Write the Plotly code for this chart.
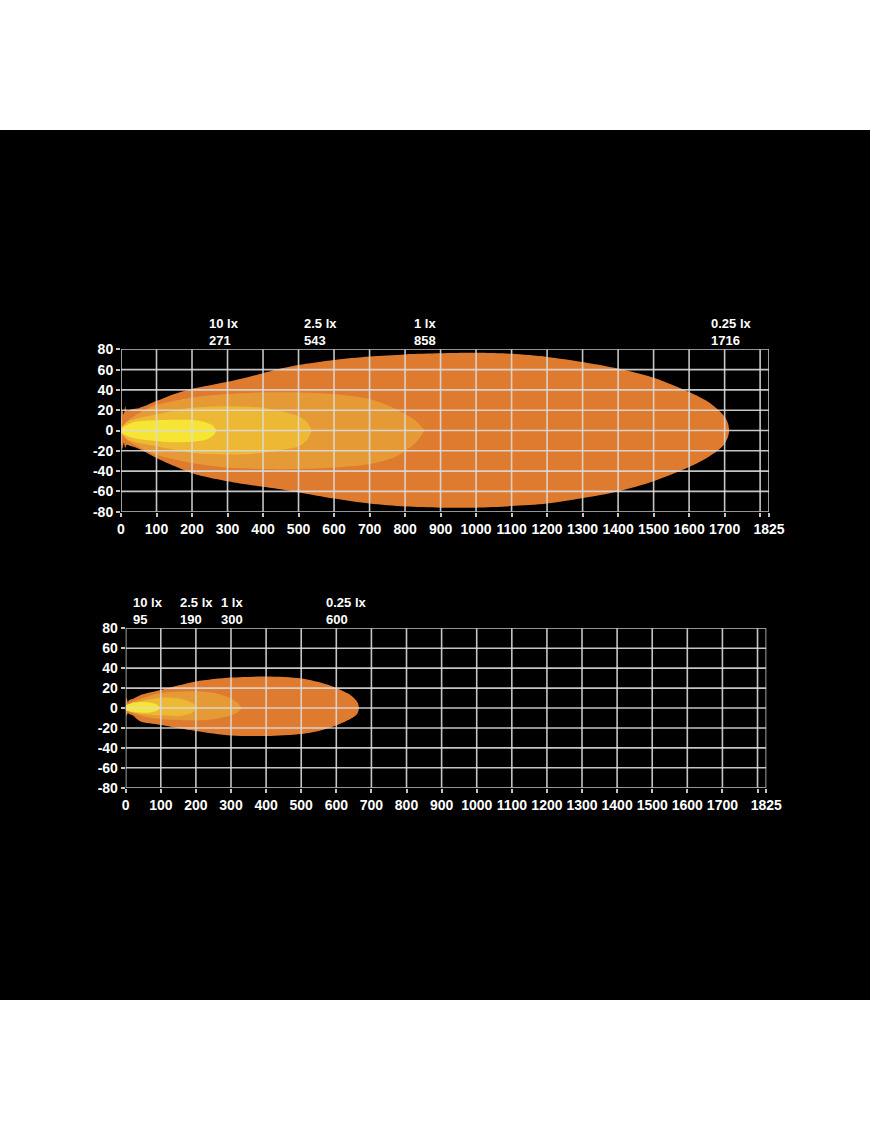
import plotly.graph_objects as go

# isolux contours, upper / lower edges (m)
LUX_LEVELS = ["0.25 lx", "1 lx", "2.5 lx", "10 lx"]
LUX_COLORS = ["#DF7B2F", "#E69A36", "#EDB833", "#F6E532"]

# top panel
top_025_x = [0, 4, 8, 12, 16, 30, 50, 100, 150, 200, 250, 300, 350, 400, 450, 500, 600, 700,
             800, 900, 1000, 1100, 1200, 1300, 1400, 1500, 1600, 1650, 1680, 1700, 1710, 1713]
top_025_up = [10, 20, 16, 24, 19, 21, 22, 29, 36, 41, 44.5, 48, 52, 56.5, 61, 64.5, 69.5, 73,
              75, 76, 76.5, 75.5, 72.5, 67.5, 61, 52, 38, 29, 21, 13.5, 6.5, 0]
top_025_lo = [-10, -18, -12, -17, -14, -15.5, -18, -27, -35, -42, -46.5, -50, -53, -55.5, -58, -61, -67, -72,
              -75, -76, -76, -74.5, -72, -66.5, -60, -50, -36, -27, -20, -13, -6, 0]

top_1_x = [0, 20, 50, 100, 200, 300, 400, 500, 600, 700, 775, 830, 855]
top_1_up = [3, 10, 17, 25, 32.5, 36, 37.5, 37.5, 36, 31, 21, 9.5, 0]
top_1_lo = [-3, -10, -16, -24, -32, -36.5, -38, -38, -36.5, -33, -25.5, -12, 0]

top_25_x = [0, 20, 100, 200, 300, 400, 450, 500, 525, 537]
top_25_up = [2.5, 9, 16, 22.4, 24, 22.4, 19, 14, 7.6, 0]
top_25_lo = [-2.5, -9, -15.5, -22, -23.7, -22, -19.4, -15.5, -9, 0]

top_10_x = [0, 20, 40, 100, 150, 200, 240, 260, 269]
top_10_up = [2, 6, 8.5, 10, 10.5, 10.5, 8, 4.5, 0]
top_10_lo = [-2, -6, -8, -10.5, -11.5, -11, -9, -5, 0]

top_dist = [271, 543, 858, 1716]

# bottom panel
bot_025_x = [0, 3, 6, 10, 20, 41, 100, 200, 300, 400, 500, 555, 600, 641, 660, 665]
bot_025_up = [5, 10, 6, 8, 9, 12.8, 18, 26.5, 30.5, 31.5, 29.6, 25.5, 20, 12.8, 6, 0]
bot_025_lo = [-4, -8, -5, -6, -7.4, -13.4, -17, -23, -27.6, -28, -26, -22.5, -17.5, -10.8, -5.7, 0]

bot_1_x = [0, 20, 60, 100, 200, 260, 300, 320, 330]
bot_1_up = [2, 6, 11, 15, 16.8, 14.5, 9.4, 5, 0]
bot_1_lo = [-2, -5, -9, -11, -12.4, -10.8, -7.4, -4, 0]

bot_25_x = [0, 20, 60, 100, 155, 189, 205]
bot_25_up = [2, 5, 8, 10.4, 9.4, 5.4, 0]
bot_25_lo = [-2, -4.5, -6.5, -7.4, -8, -4.7, 0]

bot_10_x = [0, 22, 60, 89, 98]
bot_10_up = [2.7, 5.4, 6, 3.4, 0]
bot_10_lo = [-2.5, -4, -4.7, -2.7, 0]

bot_dist = [95, 190, 300, 600]

x_ticks = list(range(0, 1900, 100)) + [1825]
x_ticktext = [str(v) if v != 1800 else "" for v in x_ticks]
y_ticks = list(range(-80, 100, 20))
y_ticktext = [str(v) for v in y_ticks]  # plain hyphen minus

W, H = 870, 1131
GRID = "rgba(218,218,218,0.9)"
FONT = dict(family="Liberation Sans, Arial, sans-serif", size=14, color="white", weight=600)
LABEL_FONT = dict(family="Liberation Sans, Arial, sans-serif", size=13, color="white", weight=600)

fig = go.Figure()


def add_contour(x, up, lo, color, xa, ya):
    fig.add_trace(go.Scatter(
        x=x + x[::-1], y=up + lo[::-1],
        fill="toself", fillcolor=color, mode="lines",
        line=dict(width=0, shape="spline", smoothing=0.8),
        hoverinfo="skip", showlegend=False, xaxis=xa, yaxis=ya,
    ))


panels = [
    ("x", "y", [(top_025_x, top_025_up, top_025_lo), (top_1_x, top_1_up, top_1_lo),
                (top_25_x, top_25_up, top_25_lo), (top_10_x, top_10_up, top_10_lo)], top_dist),
    ("x2", "y2", [(bot_025_x, bot_025_up, bot_025_lo), (bot_1_x, bot_1_up, bot_1_lo),
                  (bot_25_x, bot_25_up, bot_25_lo), (bot_10_x, bot_10_up, bot_10_lo)], bot_dist),
]

# white bands above / below the black panel
fig.add_shape(type="rect", xref="paper", yref="paper", x0=0, x1=1, y0=1 - 130 / H, y1=1,
              fillcolor="white", line=dict(width=0), layer="above")
fig.add_shape(type="rect", xref="paper", yref="paper", x0=0, x1=1, y0=0, y1=1 - 1000 / H,
              fillcolor="white", line=dict(width=0), layer="above")

for xa, ya, contours, dists in panels:
    for (cx, cu, cl), col in zip(contours, LUX_COLORS):
        add_contour(cx, cu, cl, col, xa, ya)
    # grid on top of the beams
    for xv in x_ticks:
        fig.add_shape(type="line", xref=xa, yref=ya, x0=xv, x1=xv, y0=-80, y1=80,
                      line=dict(color=GRID, width=1.6), layer="above")
    for yv in y_ticks:
        fig.add_shape(type="line", xref=xa, yref=ya, x0=0, x1=1825, y0=yv, y1=yv,
                      line=dict(color=GRID, width=1.6), layer="above")
    # lux labels, level order 10 -> 0.25
    nudge = [-9, -11, -13, -20] if xa == "x" else [-27, -13, -11, -11]
    for lvl, d, nx in zip(LUX_LEVELS[::-1], dists, nudge):
        fig.add_annotation(x=d, y=80, xref=xa, yref=ya, text=f"{lvl}<br>{d}", showarrow=False,
                           align="left", xanchor="left", yanchor="bottom", xshift=nx, yshift=0,
                           borderpad=0, font=LABEL_FONT)

axis_common = dict(showgrid=False, zeroline=False, showline=False, ticks="outside", ticklen=4,
                   tickwidth=1.6, tickcolor=GRID, tickfont=FONT, fixedrange=True, automargin=False)

fig.update_layout(
    width=W, height=H,
    margin=dict(l=0, r=0, t=0, b=0, pad=0),
    paper_bgcolor="black", plot_bgcolor="black",
    xaxis=dict(domain=[121 / W, 769 / W], range=[0, 1825], tickvals=x_ticks, ticktext=x_ticktext,
               anchor="y", **axis_common),
    yaxis=dict(domain=[1 - 511.7 / H, 1 - 349.3 / H], range=[-80, 80], tickvals=y_ticks,
               ticktext=y_ticktext, anchor="x", **axis_common),
    xaxis2=dict(domain=[125.7 / W, 766.3 / W], range=[0, 1825], tickvals=x_ticks, ticktext=x_ticktext,
                anchor="y2", **axis_common),
    yaxis2=dict(domain=[1 - 787.7 / H, 1 - 628.3 / H], range=[-80, 80], tickvals=y_ticks,
                ticktext=y_ticktext, anchor="x2", **axis_common),
)

fig.write_html("out.html", post_script="document.body.style.margin='0';",
               config={"displayModeBar": False})
